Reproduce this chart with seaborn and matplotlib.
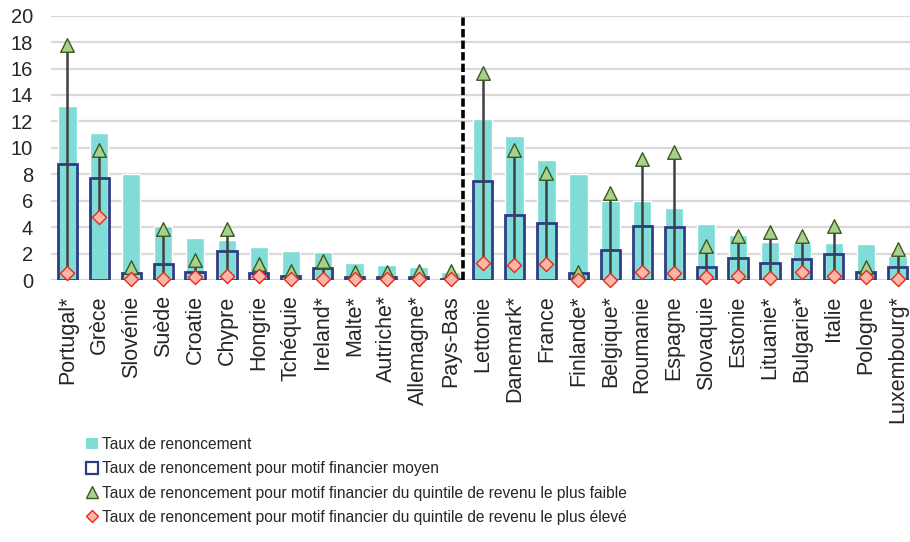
import matplotlib
matplotlib.use("Agg")
import matplotlib.pyplot as plt
from matplotlib import font_manager
from matplotlib.lines import Line2D
from matplotlib.patches import Patch
import pandas as pd
import seaborn as sns

pays = ["Portugal*", "Grèce", "Slovénie", "Suède", "Croatie", "Chypre", "Hongrie",
        "Tchéquie", "Ireland*", "Malte*", "Autriche*", "Allemagne*", "Pays-Bas",
        "Lettonie", "Danemark*", "France", "Finlande*", "Belgique*", "Roumanie",
        "Espagne", "Slovaquie", "Estonie", "Lituanie*", "Bulgarie*", "Italie",
        "Pologne", "Luxembourg*"]
taux = [13.2, 11.1, 8.0, 4.05, 3.15, 3.05, 2.5, 2.2, 2.1, 1.3, 1.1, 1.0, 0.6,
        12.2, 10.9, 9.1, 8.0, 6.0, 6.0, 5.45, 4.2, 3.4, 2.9, 2.8, 2.8, 2.7, 1.8]
moyen = [8.8, 7.7, 0.5, 1.2, 0.6, 2.2, 0.55, 0.3, 0.9, 0.2, 0.2, 0.2, 0.1,
         7.5, 4.9, 4.3, 0.5, 2.3, 4.1, 4.0, 0.95, 1.7, 1.3, 1.6, 2.0, 0.6, 1.0]
faible = [17.8, 9.8, 1.0, 3.85, 1.5, 3.85, 1.2, 0.7, 1.4, 0.6, 0.6, 0.7, 0.7,
          15.7, 9.85, 8.1, 0.6, 6.55, 9.15, 9.7, 2.6, 3.35, 3.65, 3.35, 4.05, 1.0, 2.35]
eleve = [0.5, 4.8, 0.1, 0.1, 0.25, 0.3, 0.3, 0.1, 0.1, 0.05, 0.1, 0.1, 0.05,
         1.3, 1.1, 1.2, 0.0, 0.0, 0.6, 0.5, 0.2, 0.3, 0.12, 0.6, 0.3, 0.25, 0.1]

labels = ["Taux de renoncement",
          "Taux de renoncement pour motif financier moyen",
          "Taux de renoncement pour motif financier du quintile de revenu le plus faible",
          "Taux de renoncement pour motif financier du quintile de revenu le plus élevé"]

df = pd.DataFrame({"pays": pays, "taux": taux, "moyen": moyen,
                   "faible": faible, "eleve": eleve})
df["pos"] = range(len(df))

sns.set_theme(style="white")
plt.rcParams['font.family'] = ['Liberation Sans', 'DejaVu Sans']

# narrow font for legend if installed
names = {f.name for f in font_manager.fontManager.ttflist}
if "Liberation Sans Narrow" in names:
    leg_font = {"family": "Liberation Sans Narrow", "size": 13}
else:
    leg_font = {"family": "Liberation Sans", "size": 11.2}

teal = "#7FDCD7"
navy = "#2E3D82"
green = "#A9D18E"
dgreen = "#3A5A1E"
salmon = "#FFB4A8"
red = "#E42A1C"

fig = plt.figure(figsize=(9.1, 5.42), dpi=100)
ax = fig.add_axes([51.3 / 910, 1 - 280 / 542, 862.4 / 910, 264.3 / 542])

sns.barplot(data=df, x="pays", y="taux", color=teal, saturation=1, width=0.58,
            ax=ax, zorder=2)
sns.barplot(data=df, x="pays", y="moyen", color=navy, fill=False, saturation=1,
            width=0.6, linewidth=2, ax=ax, zorder=3)
ax.vlines(df["pos"], df["eleve"], df["faible"], color="#404040", lw=1.8, zorder=4)
sns.scatterplot(data=df, x="pos", y="faible", marker="^", s=95, color=green,
                edgecolor=dgreen, linewidth=1, ax=ax, zorder=5, clip_on=False)
sns.scatterplot(data=df, x="pos", y="eleve", marker="D", s=52, color=salmon,
                edgecolor=red, linewidth=1, ax=ax, zorder=6, clip_on=False)

ax.axvline(12.39, color="black", lw=2.6, ls=(0, (2.3, 0.9)), zorder=7)

ax.set_xlim(-0.5, 26.5)
ax.set_ylim(0, 20)
ax.set_yticks(range(0, 21, 2))
ax.set_xticks(range(len(pays)))
ax.set_xticklabels(pays, rotation=90, fontsize=15.5)
ax.tick_params(axis="y", labelsize=14.5, length=0, pad=13)
ax.tick_params(axis="x", length=0, pad=11)
ax.set_xlabel("")
ax.set_ylabel("")
ax.yaxis.grid(True, color="#D9D9D9", lw=1.6)
ax.set_axisbelow(True)
for s in ax.spines.values():
    s.set_visible(False)

handles = [
    Patch(facecolor=teal, edgecolor="none"),
    Patch(facecolor="white", edgecolor=navy, linewidth=1.6),
    Line2D([], [], ls="none", marker="^", markersize=8.5, markerfacecolor=green,
           markeredgecolor=dgreen, markeredgewidth=1),
    Line2D([], [], ls="none", marker="D", markersize=6.5, markerfacecolor=salmon,
           markeredgecolor=red, markeredgewidth=1),
]
fig.legend(handles, labels, loc="upper left", bbox_to_anchor=(86 / 910, 1 - 437 / 542),
           frameon=False, prop=leg_font, handlelength=0.75, handleheight=0.75,
           handletextpad=0.3, labelspacing=0.6, borderpad=0, borderaxespad=0)

fig.savefig("out.png", dpi=100)
